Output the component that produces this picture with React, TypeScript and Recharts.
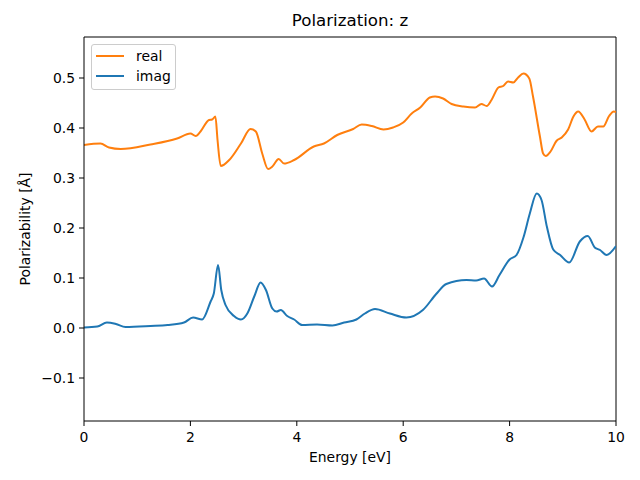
import { LineChart, Line, XAxis, YAxis, Legend, ReferenceLine } from 'recharts';

// energy grid (eV) and values, per series
const REAL_E = [
  0, 0.31, 0.47, 0.69, 1.25, 1.75, 2.0, 2.1, 2.19, 2.35, 2.41, 2.47, 2.51, 2.57, 2.73, 2.95, 3.13,
  3.23, 3.35, 3.46, 3.54, 3.66, 3.76, 3.95, 4.32, 4.51, 4.76, 5.06, 5.22, 5.41, 5.63, 5.81, 6.0,
  6.16, 6.32, 6.5, 6.6, 6.75, 6.91, 7.13, 7.35, 7.47, 7.57, 7.66, 7.79, 7.88, 7.97, 8.07, 8.16,
  8.26, 8.37, 8.44, 8.57, 8.63, 8.68, 8.77, 8.88, 8.98, 9.1, 9.2, 9.29, 9.41, 9.54, 9.66, 9.76,
  9.87, 9.96, 10,
];
const REAL_V = [
  0.366, 0.369, 0.361, 0.358, 0.367, 0.379, 0.389, 0.384, 0.393, 0.416, 0.417, 0.423, 0.376,
  0.324, 0.336, 0.369, 0.398, 0.393, 0.349, 0.318, 0.323, 0.338, 0.329, 0.336, 0.363, 0.369,
  0.386, 0.398, 0.407, 0.404, 0.397, 0.401, 0.411, 0.429, 0.441, 0.461, 0.463, 0.459, 0.448,
  0.443, 0.441, 0.448, 0.444, 0.456, 0.481, 0.484, 0.493, 0.491, 0.501, 0.509, 0.499, 0.463,
  0.383, 0.349, 0.344, 0.353, 0.374, 0.381, 0.397, 0.423, 0.433, 0.417, 0.393, 0.403, 0.403,
  0.424, 0.433, 0.432,
];

const IMAG_E = [
  0, 0.25, 0.43, 0.6, 0.78, 1.25, 1.57, 1.88, 2.05, 2.22, 2.38, 2.44, 2.52, 2.58, 2.66, 2.82,
  2.95, 3.07, 3.2, 3.32, 3.42, 3.54, 3.62, 3.7, 3.82, 3.95, 4.1, 4.38, 4.67, 4.89, 5.12, 5.28,
  5.47, 5.75, 6.06, 6.37, 6.62, 6.81, 7.19, 7.37, 7.52, 7.67, 7.81, 8.0, 8.13, 8.26, 8.38, 8.51,
  8.6, 8.7, 8.82, 8.95, 9.12, 9.32, 9.47, 9.6, 9.7, 9.82, 10,
];
const IMAG_V = [
  0.001, 0.003, 0.011, 0.008, 0.002, 0.004, 0.006, 0.011, 0.021, 0.017, 0.053, 0.069, 0.126,
  0.076, 0.046, 0.024, 0.017, 0.029, 0.063, 0.091, 0.076, 0.039, 0.033, 0.036, 0.024, 0.017,
  0.006, 0.007, 0.005, 0.011, 0.017, 0.029, 0.038, 0.029, 0.021, 0.036, 0.068, 0.088, 0.096,
  0.095, 0.099, 0.083, 0.106, 0.137, 0.146, 0.181, 0.229, 0.269, 0.256, 0.203, 0.157, 0.146,
  0.131, 0.173, 0.184, 0.161, 0.156, 0.146, 0.164,
];

const ENERGY_TICKS = [0, 2, 4, 6, 8, 10];
const POL_TICKS = [-0.1, 0, 0.1, 0.2, 0.3, 0.4, 0.5];
const X_DOMAIN = [0, 10];
const Y_DOMAIN = [-0.186, 0.582];

const SERIES = [
  { name: 'real', color: '#ff7f0e' },
  { name: 'imag', color: '#1f77b4' },
];

const FONT = "'DejaVu Sans', sans-serif";

const toPoints = (xs: number[], ys: number[]) => xs.map((e, i) => ({ e, v: ys[i] }));
const realData = toPoints(REAL_E, REAL_V);
const imagData = toPoints(IMAG_E, IMAG_V);

// matplotlib style: one decimal, unicode minus
const fmtY = (v: number) => (v < 0 ? '\u2212' : '') + Math.abs(v).toFixed(1);

const tickStyle = { fontSize: 13.9, fill: '#000', fontFamily: FONT };

function LegendBox() {
  return (
    <div
      style={{
        width: 85,
        height: 46,
        boxSizing: 'border-box',
        border: '1px solid #cccccc',
        borderRadius: 3,
        background: 'rgba(255,255,255,0.8)',
        paddingTop: 1,
        fontFamily: FONT,
        fontSize: 13.9,
        color: '#000',
      }}
    >
      {SERIES.map((s) => (
        <div key={s.name} style={{ height: 20, display: 'flex', alignItems: 'center' }}>
          <div style={{ marginLeft: 4, width: 28, height: 2, background: s.color }} />
          <span style={{ marginLeft: 12, lineHeight: '20px' }}>{s.name}</span>
        </div>
      ))}
    </div>
  );
}

export default function App() {
  return (
    <div style={{ position: 'absolute', left: 0, top: 0, width: 640, height: 480, background: '#fff' }}>
      <div
        style={{
          position: 'absolute',
          left: 84,
          width: 532,
          top: 11,
          textAlign: 'center',
          fontFamily: FONT,
          fontSize: 16.67,
          lineHeight: '20px',
          color: '#000',
        }}
      >
        Polarization: z
      </div>
      <LineChart width={640} height={480} margin={{ top: 37, right: 24, bottom: 0, left: 0 }}>
        <XAxis
          dataKey="e"
          type="number"
          domain={X_DOMAIN}
          ticks={ENERGY_TICKS}
          height={59}
          tickSize={5}
          tickMargin={6}
          stroke="#000"
          tick={tickStyle}
          allowDataOverflow
          label={{
            value: 'Energy [eV]',
            position: 'insideBottom',
            offset: 18,
            style: { fontSize: 13.9, fill: '#000', fontFamily: FONT },
          }}
        />
        <YAxis
          type="number"
          domain={Y_DOMAIN}
          ticks={POL_TICKS}
          tickFormatter={fmtY}
          width={84}
          tickSize={5}
          tickMargin={4}
          stroke="#000"
          tick={tickStyle}
          allowDataOverflow
          label={{
            value: 'Polarizability [Å]',
            angle: -90,
            position: 'insideLeft',
            offset: 25,
            style: { fontSize: 13.9, fill: '#000', fontFamily: FONT, textAnchor: 'middle' },
          }}
        />
        {/* close the frame on top and right like matplotlib spines */}
        <ReferenceLine y={Y_DOMAIN[1]} stroke="#000" strokeWidth={1} />
        <ReferenceLine x={X_DOMAIN[1]} stroke="#000" strokeWidth={1} />
        <Legend
          layout="horizontal"
          verticalAlign="middle"
          align="center"
          wrapperStyle={{ left: 91, top: 44, width: 85, height: 46 }}
          content={() => <LegendBox />}
        />
        <Line
          data={imagData}
          dataKey="v"
          name="imag"
          type="monotone"
          stroke={SERIES[1].color}
          strokeWidth={2}
          dot={false}
          isAnimationActive={false}
        />
        <Line
          data={realData}
          dataKey="v"
          name="real"
          type="monotone"
          stroke={SERIES[0].color}
          strokeWidth={2}
          dot={false}
          isAnimationActive={false}
        />
      </LineChart>
    </div>
  );
}
